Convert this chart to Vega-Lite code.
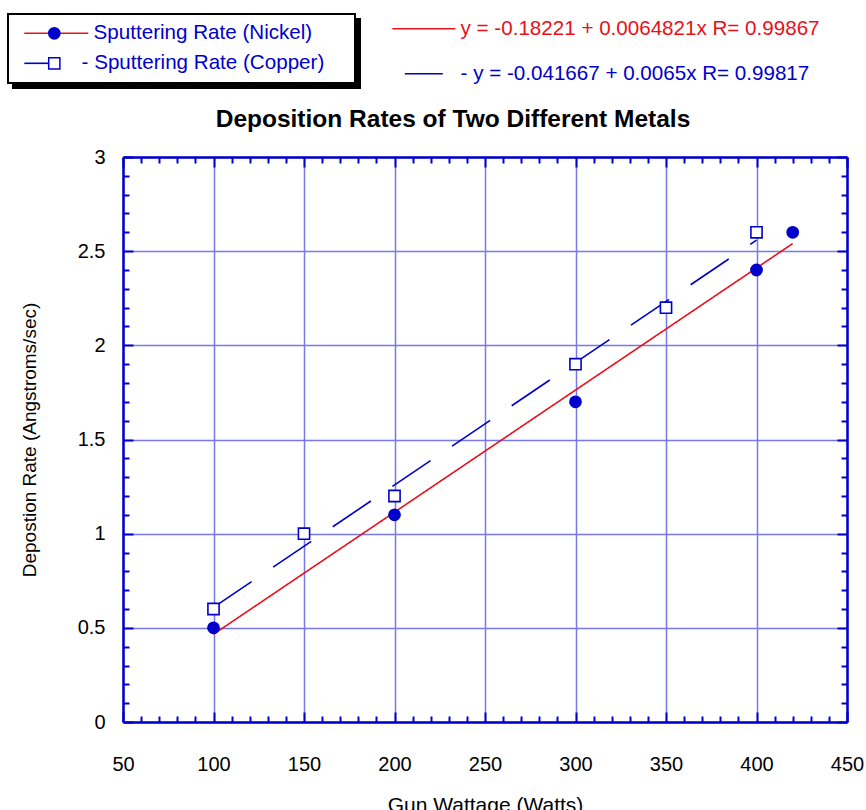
{
  "$schema": "https://vega.github.io/schema/vega-lite/v6.json",
  "width": 724,
  "height": 565,
  "autosize": {"type": "none"},
  "padding": {"left": 123, "top": 157, "right": 19, "bottom": 88},
  "background": "white",
  "config": {
    "font": "Liberation Sans",
    "view": {"stroke": null},
    "axis": {
      "labelFont": "Liberation Sans",
      "titleFont": "Liberation Sans",
      "labelFontSize": 20,
      "titleFontSize": 21,
      "titleFontWeight": "normal",
      "labelColor": "black",
      "titleColor": "black",
      "domainColor": "#0000cc",
      "domainWidth": 2.5,
      "tickColor": "#0000cc",
      "tickWidth": 2,
      "gridColor": "#7878e8",
      "gridWidth": 1.5,
      "labelFlush": false,
      "labelOverlap": false
    },
    "legend": {"labelFont": "Liberation Sans", "labelFontSize": 20.6, "labelLimit": 500}
  },
  "title": {
    "text": "Deposition Rates of Two Different Metals",
    "font": "Liberation Sans",
    "fontSize": 24.5,
    "fontWeight": "bold",
    "color": "black",
    "anchor": "middle",
    "frame": "group",
    "dx": -32,
    "dy": 119,
    "offset": 0
  },
  "datasets": {
    "points": [
      {"w": 100, "r": 0.5, "metal": "Nickel"},
      {"w": 200, "r": 1.1, "metal": "Nickel"},
      {"w": 300, "r": 1.7, "metal": "Nickel"},
      {"w": 400, "r": 2.4, "metal": "Nickel"},
      {"w": 420, "r": 2.6, "metal": "Nickel"},
      {"w": 100, "r": 0.6, "metal": "Copper"},
      {"w": 150, "r": 1.0, "metal": "Copper"},
      {"w": 200, "r": 1.2, "metal": "Copper"},
      {"w": 300, "r": 1.9, "metal": "Copper"},
      {"w": 350, "r": 2.2, "metal": "Copper"},
      {"w": 400, "r": 2.6, "metal": "Copper"}
    ],
    "fits": [
      {"w": 100, "r": 0.466, "metal": "Nickel", "eq": "y = -0.18221 + 0.0064821x R= 0.99867"},
      {"w": 420, "r": 2.5403, "metal": "Nickel", "eq": "y = -0.18221 + 0.0064821x R= 0.99867"},
      {"w": 100, "r": 0.6083, "metal": "Copper", "eq": "- y = -0.041667 + 0.0065x R= 0.99817"},
      {"w": 400, "r": 2.5583, "metal": "Copper", "eq": "- y = -0.041667 + 0.0065x R= 0.99817"}
    ]
  },
  "layer": [
    {
      "data": {"name": "fits"},
      "mark": {"type": "line", "strokeWidth": 1.6, "clip": false},
      "encoding": {
        "x": {
          "field": "w", "type": "quantitative",
          "scale": {"domain": [50, 450], "nice": false, "zero": false},
          "axis": {
            "orient": "bottom",
            "title": "Gun Wattage (Watts)",
            "tickCount": 40,
            "format": "d",
            "labelExpr": "datum.value % 50 === 0 ? datum.label : ''",
            "grid": true,
            "gridOpacity": {"condition": {"test": "datum.value % 50 === 0", "value": 1}, "value": 0},
            "tickSize": {"condition": {"test": "datum.value % 50 === 0", "value": -10}, "value": -6},
            "labelPadding": 42,
            "titlePadding": 16
          }
        },
        "y": {
          "field": "r", "type": "quantitative",
          "scale": {"domain": [0, 3], "nice": false, "zero": false},
          "axis": {
            "orient": "left",
            "title": "Depostion Rate (Angstroms/sec)",
            "titleFontSize": 19,
            "tickCount": 30,
            "format": "~g",
            "labelExpr": "abs(datum.value * 2 - round(datum.value * 2)) < 0.001 ? datum.label : ''",
            "grid": true,
            "gridOpacity": {"condition": {"test": "abs(datum.value * 2 - round(datum.value * 2)) < 0.001", "value": 1}, "value": 0},
            "tickSize": {"condition": {"test": "abs(datum.value * 2 - round(datum.value * 2)) < 0.001", "value": -10}, "value": -6},
            "labelPadding": 28,
            "titlePadding": 38
          }
        },
        "color": {
          "field": "metal", "type": "nominal",
          "scale": {"domain": ["Nickel", "Copper"], "range": ["#e8101a", "#0000cc"]},
          "legend": {
            "orient": "none",
            "legendX": -115,
            "legendY": -143,
            "title": ".",
            "titleOrient": "right",
            "titleColor": "white",
            "titleFontSize": 20,
            "titlePadding": 16,
            "zindex": 1,
            "symbolType": "M-4,0H4",
            "symbolSize": 256,
            "symbolStrokeWidth": 1.6,
            "symbolOffset": 29,
            "labelOffset": 15,
            "padding": 9,
            "rowPadding": 9,
            "strokeColor": "black",
            "fillColor": "white",
            "labelColor": "#0000cc",
            "labelExpr": "datum.value == 'Nickel' ? 'Sputtering Rate (Nickel)' : '- Sputtering Rate (Copper)'",
            "encode": {
              "legend": {"update": {"strokeWidth": {"value": 2}}},
              "symbols": {"update": {"strokeDash": {"signal": "datum.value == 'Copper' ? [26, 200] : [1, 0]"}, "strokeWidth": {"value": 1.6}}},
              "labels": {"update": {"dx": {"signal": "datum.value == 'Nickel' ? 12 : 0"}}}
            }
          }
        },
        "strokeDash": {
          "field": "eq", "type": "nominal",
          "scale": {"domain": ["- y = -0.041667 + 0.0065x R= 0.99817", "y = -0.18221 + 0.0064821x R= 0.99867"], "range": [[46, 26], [1, 0]]},
          "legend": null
        },
        "strokeWidth": {
          "field": "metal", "type": "nominal",
          "scale": {"domain": ["Copper", "Nickel", "none"], "range": [1.6, 1.6, 1.6]},
          "legend": {
            "orient": "none",
            "legendX": -110,
            "legendY": -138,
            "title": ".",
            "titleOrient": "right",
            "titleColor": "black",
            "titleFontSize": 20,
            "titlePadding": 16,
            "zindex": 0,
            "values": ["Nickel", "Copper"],
            "symbolType": "M-4,0H4",
            "symbolSize": 256,
            "symbolStrokeWidth": 1.6,
            "symbolOffset": 29,
            "labelOffset": 15,
            "padding": 9,
            "rowPadding": 9,
            "strokeColor": "black",
            "fillColor": "black",
            "labelColor": "black",
            "labelExpr": "datum.value == 'Nickel' ? 'Sputtering Rate (Nickel)' : '- Sputtering Rate (Copper)'",
            "encode": {
              "legend": {"update": {"strokeWidth": {"value": 2}}},
              "symbols": {"update": {"opacity": {"value": 0}}},
              "labels": {"update": {"dx": {"signal": "datum.value == 'Nickel' ? 12 : 0"}}}
            }
          }
        },
        "opacity": {
          "field": "eq", "type": "nominal",
          "scale": {"domain": ["y = -0.18221 + 0.0064821x R= 0.99867", "- y = -0.041667 + 0.0065x R= 0.99817"], "range": [1, 1]},
          "legend": {
            "orient": "none",
            "legendX": 290.5,
            "legendY": -138.5,
            "title": null,
            "zindex": 1,
            "symbolType": "M-4,0H4",
            "symbolSize": 248,
            "symbolStrokeWidth": 1.6,
            "symbolOffset": 0,
            "labelOffset": 26.5,
            "padding": 0,
            "rowPadding": 24,
            "encode": {
              "symbols": {"update": {
                "stroke": {"signal": "indexof(datum.value, '0.18221') >= 0 ? '#e8101a' : '#0000cc'"},
                "strokeDash": {"signal": "indexof(datum.value, '0.18221') >= 0 ? [1, 0] : [0, 12.5, 38, 200]"},
                "strokeWidth": {"value": 1.6},
                "opacity": {"value": 1}
              }},
              "labels": {"update": {"fill": {"signal": "indexof(datum.value, '0.18221') >= 0 ? '#e8101a' : '#0000cc'"}}}
            }
          }
        }
      }
    },
    {
      "data": {"name": "points"},
      "mark": {"type": "point", "size": 125, "strokeWidth": 1.6, "stroke": "#0000cc", "opacity": 1},
      "encoding": {
        "x": {
          "field": "w", "type": "quantitative",
          "axis": {
            "orient": "top",
            "title": null,
            "labels": false,
            "grid": false,
            "tickCount": 40,
            "tickSize": {"condition": {"test": "datum.value % 50 === 0", "value": -10}, "value": -6}
          }
        },
        "y": {
          "field": "r", "type": "quantitative",
          "axis": {
            "orient": "right",
            "title": null,
            "labels": false,
            "grid": false,
            "tickCount": 30,
            "tickSize": {"condition": {"test": "abs(datum.value * 2 - round(datum.value * 2)) < 0.001", "value": -10}, "value": -6}
          }
        },
        "shape": {
          "field": "metal", "type": "nominal",
          "scale": {"domain": ["Copper", "Nickel"], "range": ["square", "circle"]},
          "legend": {
            "orient": "none",
            "legendX": -79,
            "legendY": -134,
            "title": null,
            "zindex": 2,
            "values": ["Nickel", "Copper"],
            "symbolSize": 125,
            "symbolOffset": 0,
            "padding": 0,
            "rowPadding": 9,
            "labelOpacity": 0,
            "labelExpr": "datum.value == 'Nickel' ? 'Sputtering Rate (Nickel)' : '- Sputtering Rate (Copper)'",
            "encode": {
              "symbols": {"update": {"stroke": {"value": "#0000cc"}, "strokeWidth": {"value": 1.6}}}
            }
          }
        },
        "fill": {
          "field": "metal", "type": "nominal",
          "scale": {"domain": ["Copper", "Nickel"], "range": ["white", "#0000cc"]},
          "legend": {
            "orient": "none",
            "legendX": -79,
            "legendY": -134,
            "title": null,
            "zindex": 2,
            "values": ["Nickel", "Copper"],
            "symbolSize": 125,
            "symbolOffset": 0,
            "padding": 0,
            "rowPadding": 9,
            "labelOpacity": 0,
            "labelExpr": "datum.value == 'Nickel' ? 'Sputtering Rate (Nickel)' : '- Sputtering Rate (Copper)'"
          }
        }
      }
    }
  ],
  "resolve": {"axis": {"x": "independent", "y": "independent"}}
}
